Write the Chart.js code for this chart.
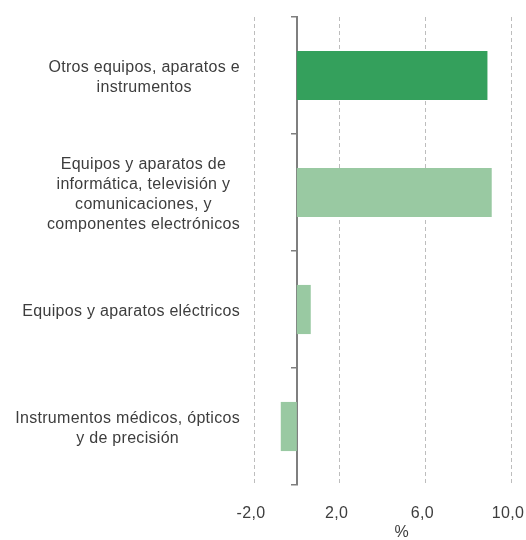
<!DOCTYPE html>
<html lang="es">
<head>
    <meta charset="utf-8" />
    <title>Variación por grupo de productos</title>
    <script src="https://cdnjs.cloudflare.com/ajax/libs/Chart.js/4.4.0/chart.umd.js"></script>
    <style>
        html, body { margin: 0; padding: 0; background: #fff; }
        #wrap { width: 526px; height: 540px; position: relative; }
    </style>
</head>
<body>
    <div id="wrap"><canvas id="chart"></canvas></div>
    <script>
        // datos
        const categories = [
            ['Otros equipos, aparatos e', 'instrumentos'],
            ['Equipos y aparatos de', 'informática, televisión y', 'comunicaciones, y', 'componentes electrónicos'],
            ['Equipos y aparatos eléctricos'],
            ['Instrumentos médicos, ópticos', 'y de precisión']
        ];
        const values = [8.9, 9.1, 0.65, -0.75];
        const barColors = ['#34a05c', '#99c9a2', '#99c9a2', '#99c9a2'];
        const xTicks = [-2, 2, 6, 10];
        const axisTitle = '%';

        const font = { family: '"Liberation Sans", Arial, sans-serif', size: 16 };
        const textColor = '#3d3d3d';
        const spacing = '0.3px';

        // espaciado de letras para todo el lienzo
        const letterSpace = {
            id: 'letterSpace',
            beforeUpdate(chart) { chart.ctx.letterSpacing = spacing; },
            beforeDraw(chart) { chart.ctx.letterSpacing = spacing; }
        };

        // etiquetas de categoría centradas por bloque, alineadas a la derecha
        const catLabels = {
            id: 'catLabels',
            afterDraw(chart) {
                const ctx = chart.ctx;
                const y = chart.scales.y;
                const right = 240, lh = 20;
                ctx.save();
                ctx.font = font.size + 'px ' + font.family;
                ctx.fillStyle = textColor;
                ctx.textAlign = 'center';
                ctx.textBaseline = 'middle';
                categories.forEach((lines, i) => {
                    const cy = y.getPixelForTick(i) + 2;
                    const w = Math.max(...lines.map(l => ctx.measureText(l).width));
                    const cx = right - w / 2;
                    const top = cy - (lines.length - 1) * lh / 2;
                    lines.forEach((l, j) => ctx.fillText(l, cx, top + j * lh));
                });
                // título del eje x
                ctx.fillText(axisTitle, chart.scales.x.getPixelForValue(4.9), 533);
                ctx.restore();
            }
        };

        const ctx = document.getElementById('chart').getContext('2d');
        new Chart(ctx, {
            type: 'bar',
            data: {
                labels: categories,
                datasets: [{
                    data: values,
                    backgroundColor: barColors,
                    borderWidth: 0,
                    categoryPercentage: 1,
                    barPercentage: 0.42
                }]
            },
            options: {
                indexAxis: 'y',
                responsive: true,
                maintainAspectRatio: false,
                animation: false,
                layout: { padding: { left: 254, right: 15, top: 17, bottom: 0 } },
                plugins: {
                    legend: { display: false },
                    tooltip: { enabled: false }
                },
                scales: {
                    x: {
                        min: -2,
                        max: 10,
                        afterBuildTicks: s => { s.ticks = xTicks.map(v => ({ value: v })); },
                        afterFit: s => { s.height = 55; s.paddingRight = 0; s.paddingLeft = 0; },
                        ticks: {
                            font: font,
                            color: textColor,
                            padding: 19,
                            labelOffset: -3,
                            maxRotation: 0,
                            callback: v => v.toFixed(1).replace('.', ',')
                        },
                        grid: { color: '#bdbdbd', lineWidth: 1, drawTicks: false },
                        border: { display: false, dash: [4, 3] }
                    },
                    y: {
                        position: { x: 0 },
                        ticks: { display: false },
                        grid: {
                            offset: true,
                            drawOnChartArea: false,
                            drawTicks: true,
                            tickLength: 5,
                            color: '#7f7f7f',
                            lineWidth: 1.5
                        },
                        border: { display: true, color: '#7f7f7f', width: 2 }
                    }
                }
            },
            plugins: [letterSpace, catLabels]
        });
    </script>
</body>
</html>
